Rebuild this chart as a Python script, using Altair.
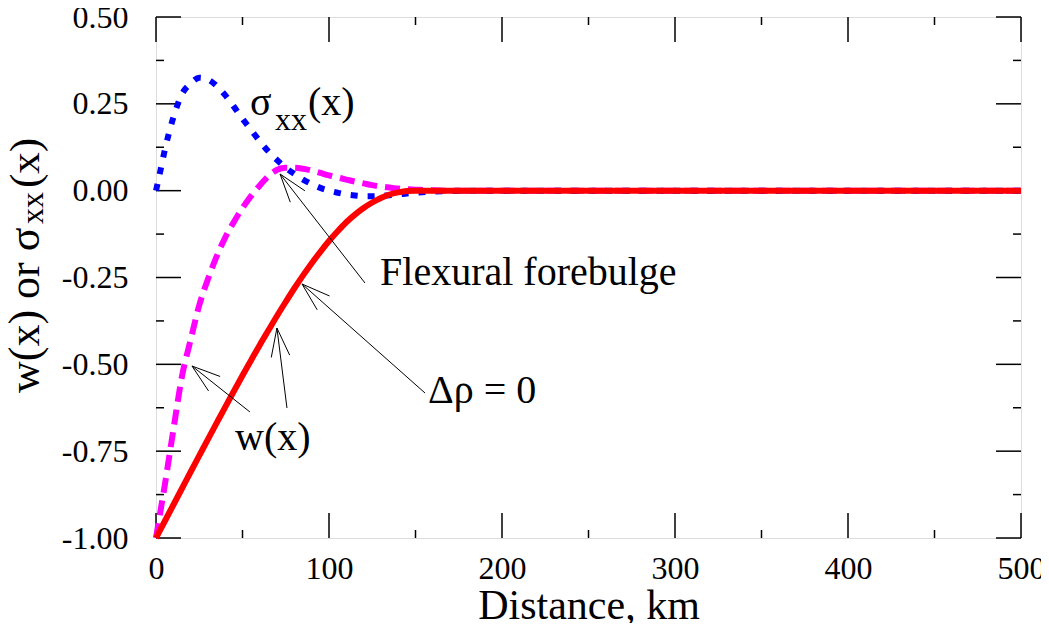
import math
import altair as alt
import pandas as pd

# ---------------- data ----------------
x_km = [0, 2, 5, 10, 15, 20, 25, 30, 35, 40, 45, 50, 55, 60, 65, 70, 75, 80, 85, 90,
        95, 100, 105, 110, 115, 120, 125, 130, 135, 140, 145, 150, 160, 170, 180,
        200, 250, 300, 350, 400, 450, 500]

w_delta0 = [-1.00, -0.981, -0.9525, -0.905, -0.8575, -0.81, -0.763, -0.716, -0.6695, -0.623,
            -0.5775, -0.532, -0.488, -0.444, -0.402, -0.36, -0.32, -0.281, -0.244, -0.209,
            -0.176, -0.145, -0.117, -0.091, -0.069, -0.05, -0.034, -0.021, -0.011, -0.005,
            -0.001, 0.0, 0.0, 0.0, 0.0,
            0.0, 0.0, 0.0, 0.0, 0.0, 0.0, 0.0]

w_magenta = [-1.00, -0.94, -0.85, -0.69, -0.535, -0.43, -0.33, -0.255, -0.19, -0.135,
             -0.09, -0.05, -0.015, 0.015, 0.042, 0.06, 0.066, 0.066, 0.063, 0.058,
             0.051, 0.044, 0.038, 0.032, 0.026, 0.021, 0.016, 0.012, 0.009, 0.006,
             0.004, 0.003, 0.001, 0.0, 0.0,
             0.0, 0.0, 0.0, 0.0, 0.0, 0.0, 0.0]

sigma_xx = [0.0, 0.045, 0.115, 0.21, 0.278, 0.308, 0.325, 0.32, 0.302, 0.275,
            0.242, 0.207, 0.175, 0.142, 0.113, 0.088, 0.066, 0.048, 0.032, 0.019,
            0.008, 0.0, -0.006, -0.011, -0.014, -0.016, -0.016, -0.015, -0.013, -0.011,
            -0.008, -0.006, -0.003, -0.001, 0.0,
            0.0, 0.0, 0.0, 0.0, 0.0, 0.0, 0.0]

x_major = [0, 100, 200, 300, 400, 500]
x_minor = [50, 150, 250, 350, 450]
y_major = [-1.0, -0.75, -0.5, -0.25, 0.0, 0.25, 0.5]
y_minor = [-0.875, -0.625, -0.375, -0.125, 0.125, 0.375]

ann_text = ["Flexural forebulge", "\u0394\u03c1 = 0", "w(x)"]
ann_x = [129.5, 157.2, 45.7]
ann_y = [-0.2716, -0.611, -0.7466]

# arrows: tail -> tip (data units)
arr_tail_x = [120.8, 155.5, 54.3, 75.7]
arr_tail_y = [-0.2658, -0.5825, -0.6372, -0.6257]
arr_tip_x = [71.7, 84.4, 20.8, 69.9]
arr_tip_y = [0.048, -0.2687, -0.5048, -0.3954]

sig_label_x = 54.3
sig_label_y = 0.2178

# ---------------- layout ----------------
W, H = 865, 521
XMIN, XMAX = 0, 500
YMIN, YMAX = -1.0, 0.5
SX = W / (XMAX - XMIN)
SY = H / (YMAX - YMIN)
FONT = "Liberation Serif"

curves = pd.DataFrame({"x": x_km * 3,
                       "y": w_delta0 + w_magenta + sigma_xx,
                       "s": ["red"] * len(x_km) + ["mag"] * len(x_km) + ["blue"] * len(x_km)})

ax_x = alt.Axis(values=x_major, ticks=False, domain=False, grid=False,
                labelFont=FONT, labelFontSize=32, labelColor="black", labelPadding=15,
                labelFlush=False, title="Distance, km", titleFont=FONT, titleFontSize=42,
                titleFontWeight="normal", titleColor="black", titleY=80,
                titleBaseline="alphabetic")
ax_y = alt.Axis(values=y_major, ticks=False, domain=False, grid=False,
                labelFont=FONT, labelFontSize=32, labelColor="black", labelPadding=28,
                labelFlush=False, labelBaseline="middle",
                labelExpr="(datum.value < 0 ? '-' : '') + format(abs(datum.value), '.2f')",
                title=None)

X = alt.X("x:Q", scale=alt.Scale(domain=[XMIN, XMAX], nice=False, zero=False), axis=ax_x)
Y = alt.Y("y:Q", scale=alt.Scale(domain=[YMIN, YMAX], nice=False, zero=False), axis=ax_y)

def curve(name, color, dash=None, width=6):
    kw = dict(color=color, strokeWidth=width, interpolate="monotone", strokeCap="butt")
    if dash:
        kw["strokeDash"] = dash
    return alt.Chart(curves).transform_filter(alt.datum.s == name).mark_line(**kw).encode(
        x=X, y=Y, order="x:Q")

mag = curve("mag", "#ff00ff", [15, 8])
blue = curve("blue", "#0000ff", [7, 10])
red = curve("red", "#ff0000")

# tick marks (inward, all four sides)
def xticks(vals, length):
    df = pd.DataFrame({"x": vals})
    bot = alt.Chart(df).mark_rule(color="black", strokeWidth=1.5).encode(
        x=X, y=alt.value(H), y2=alt.value(H - length))
    top = alt.Chart(df).mark_rule(color="black", strokeWidth=1.5).encode(
        x=X, y=alt.value(0), y2=alt.value(length))
    return [bot, top]

def yticks(vals, length):
    df = pd.DataFrame({"y": vals})
    left = alt.Chart(df).mark_rule(color="black", strokeWidth=1.5).encode(
        y=Y, x=alt.value(0), x2=alt.value(length))
    right = alt.Chart(df).mark_rule(color="black", strokeWidth=1.5).encode(
        y=Y, x=alt.value(W), x2=alt.value(W - length))
    return [left, right]

ticks = xticks(x_major, 25) + xticks(x_minor, 8) + yticks(y_major, 25) + yticks(y_minor, 8)

# arrows
seg_rows = []
HEAD = 30.0
HALF = math.radians(18)
for tx, ty, hx, hy in zip(arr_tail_x, arr_tail_y, arr_tip_x, arr_tip_y):
    seg_rows.append({"x": tx, "y": ty, "x2": hx, "y2": hy})
    dxp = (tx - hx) * SX
    dyp = -(ty - hy) * SY
    ang = math.atan2(dyp, dxp)
    for sgn in (-1, 1):
        a = ang + sgn * HALF
        ex = hx + HEAD * math.cos(a) / SX
        ey = hy - HEAD * math.sin(a) / SY
        seg_rows.append({"x": hx, "y": hy, "x2": ex, "y2": ey})
segs = pd.DataFrame(seg_rows)
arrows = alt.Chart(segs).mark_rule(color="black", strokeWidth=1).encode(
    x=X, y=Y, x2="x2:Q", y2="y2:Q")

ann = pd.DataFrame({"x": ann_x, "y": ann_y, "t": ann_text})
ann_layer = alt.Chart(ann).mark_text(font=FONT, fontSize=40, align="left",
                                     baseline="alphabetic", color="black").encode(
    x=X, y=Y, text="t:N")

sig = pd.DataFrame({"x": [sig_label_x], "y": [sig_label_y]})
sig1 = alt.Chart(sig).mark_text(font=FONT, fontSize=40, align="left", baseline="alphabetic",
                                color="black", text="\u03c3").encode(x=X, y=Y)
sig2 = alt.Chart(sig).mark_text(font=FONT, fontSize=32, align="left", baseline="alphabetic",
                                color="black", text="xx", dx=25, dy=15).encode(x=X, y=Y)
sig3 = alt.Chart(sig).mark_text(font=FONT, fontSize=40, align="left", baseline="alphabetic",
                                color="black", text="(x)", dx=58).encode(x=X, y=Y)

# y-axis title built from pieces (subscript)
yt1 = alt.Chart(sig).mark_text(font=FONT, fontSize=44, align="left", baseline="alphabetic",
                               color="black", angle=270, text="w(x) or \u03c3").encode(
    x=alt.value(-117), y=alt.value(376))
yt2 = alt.Chart(sig).mark_text(font=FONT, fontSize=32, align="left", baseline="alphabetic",
                               color="black", angle=270, text="xx").encode(
    x=alt.value(-113), y=alt.value(207))
yt3 = alt.Chart(sig).mark_text(font=FONT, fontSize=43, align="left", baseline="alphabetic",
                               color="black", angle=270, text="(x)").encode(
    x=alt.value(-117), y=alt.value(171))

chart = alt.layer(*ticks, mag, blue, red, arrows, ann_layer, sig1, sig2, sig3,
                  yt1, yt2, yt3).properties(
    width=W, height=H,
    autosize=alt.AutoSizeParams(type="none"),
    padding={"left": 148, "top": 9, "right": 20, "bottom": 85},
).configure_view(stroke="black", strokeWidth=2).configure(background="white")

chart.save("out.html", embed_options={"renderer": "svg", "actions": False})
